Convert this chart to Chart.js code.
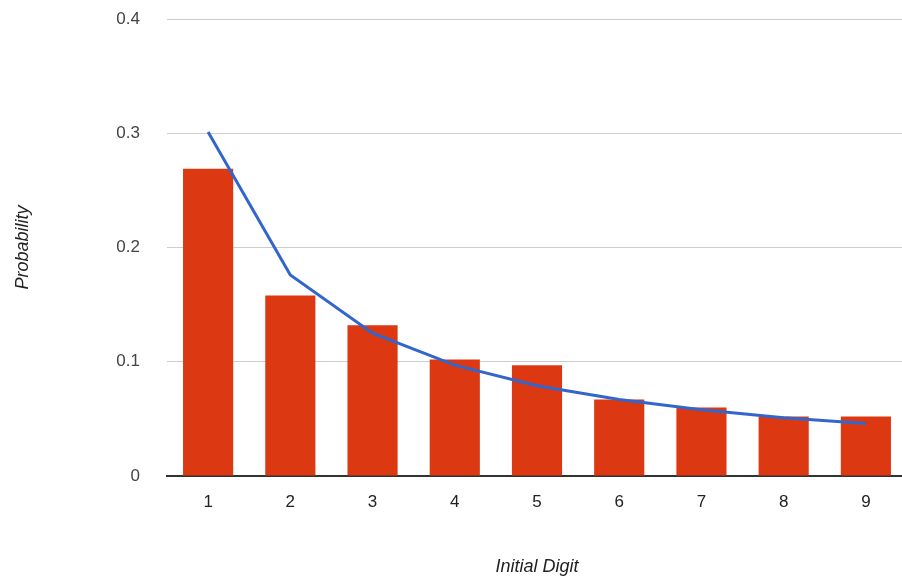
<!DOCTYPE html>
<html>
<head>
<meta charset="utf-8">
<script src="https://cdn.jsdelivr.net/npm/chart.js@4/dist/chart.umd.min.js"></script>
<style>
    html, body { margin: 0; padding: 0; background: #fff; overflow: hidden; }
</style>
</head>
<body>
<canvas id="chart" width="910" height="586"></canvas>
<script>
// first digits and their observed / expected probabilities
const digits = ["1", "2", "3", "4", "5", "6", "7", "8", "9"];
const observed = [0.269, 0.158, 0.132, 0.102, 0.097, 0.067, 0.060, 0.052, 0.052];
const benford = [0.301, 0.176, 0.125, 0.097, 0.079, 0.067, 0.058, 0.051, 0.046];
const yTicks = [0, 0.1, 0.2, 0.3, 0.4];

const font = "'Liberation Sans', Arial, sans-serif";

const chart = new Chart(document.getElementById("chart").getContext("2d"), {
    type: 'bar',
    data: {
        labels: digits,
        datasets: [{
            type: 'line', label: 'Benford', data: benford,
            borderColor: '#3366cc', borderWidth: 3, pointRadius: 0, tension: 0, fill: false, order: 0
        }, {
            type: 'bar', label: 'Observed', data: observed,
            backgroundColor: '#dc3912', categoryPercentage: 1, barPercentage: 0.61, order: 1
        }]
    },
    options: {
        responsive: false,
        animation: false,
        layout: {padding: {top: 19, right: 3, left: 0, bottom: 0}},
        plugins: {legend: {display: false}, tooltip: {enabled: false}},
        scales: {
            x: {
                grid: {display: false, drawTicks: false},
                border: {color: '#333', width: 2},
                ticks: {color: '#222', padding: 16, font: {family: font, size: 17}},
                title: {
                    display: true, text: 'Initial Digit', color: '#222',
                    font: {family: font, size: 18, style: 'italic'}, padding: {top: 0, bottom: 8}
                },
                afterFit: s => { s.height = 110; s.paddingLeft = 0; s.paddingRight = 0; }
            },
            y: {
                min: 0, max: 0.4,
                afterBuildTicks: s => { s.ticks = yTicks.map(v => ({value: v})); },
                grid: {color: '#cccccc', drawTicks: false},
                border: {display: false},
                ticks: {
                    color: '#444', padding: 27, font: {family: font, size: 17},
                    callback: v => v === 0 ? '0' : v.toFixed(1)
                },
                title: {
                    display: true, text: 'Probability', color: '#222',
                    font: {family: font, size: 18, style: 'italic'}, padding: {top: 12, bottom: 0}
                },
                afterFit: s => { s.width = 167; s.paddingTop = 0; s.paddingBottom = 0; }
            }
        }
    }
});
</script>
</body>
</html>
